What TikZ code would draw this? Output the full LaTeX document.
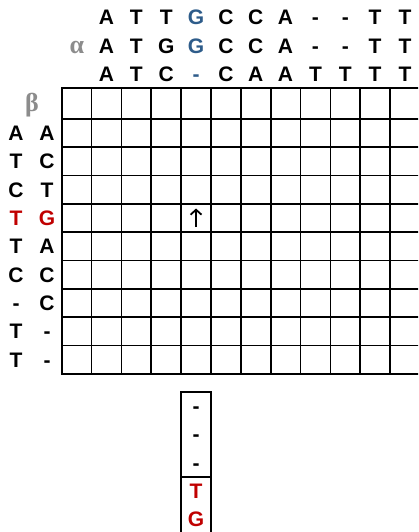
\documentclass[tikz,border=0pt]{standalone}
\usepackage{fontspec}
\setmainfont{Liberation Sans}
\newfontfamily\greekfont{Liberation Serif}
\usetikzlibrary{arrows.meta}
\definecolor{seqblue}{HTML}{2E5C8A}
\definecolor{seqred}{HTML}{C00000}
\definecolor{seqgray}{HTML}{8C8C8C}
\begin{document}
\begin{tikzpicture}[x=1pt,y=-1pt,
  lbl/.style={font=\bfseries\fontsize{21}{21}\selectfont, inner sep=0pt, anchor=base},
  grk/.style={font=\greekfont\bfseries\fontsize{26}{26}\selectfont, inner sep=0pt, anchor=base, text=seqgray},
  gridline/.style={line width=1.7pt, line cap=rect}]
\clip (0,0) rectangle (418,532);
\fill[white] (0,0) rectangle (418,532);
% grid
\def\gx{61.7}\def\gw{29.85}
\foreach \i in {0,...,11} {
  \draw[gridline] ({\gx+\gw*\i},88) -- ({\gx+\gw*\i},373.7);
}
\draw[gridline] (\gx,88) -- (430,88);
\foreach \k in {0,...,9} {
  \draw[gridline] (\gx,{119+28.3*\k}) -- (430,{119+28.3*\k});
}
% top sequences
\foreach \s [count=\c] in {A,T,T,,C,C,A,-,-,T,T} {
  \node[lbl] (ta\c) at ({\gx+\gw*(\c+0.5)},25) {\s};
}
\foreach \s [count=\c] in {A,T,G,,C,C,A,-,-,T,T} {
  \node[lbl] (tb\c) at ({\gx+\gw*(\c+0.5)},53.5) {\s};
}
\foreach \s [count=\c] in {A,T,C,,C,A,A,T,T,T,T} {
  \node[lbl] (tc\c) at ({\gx+\gw*(\c+0.5)},82) {\s};
}
% blue entries (column 4)
\node[lbl,text=seqblue] (ta4b) at ({\gx+\gw*4.5},25) {G};
\node[lbl,text=seqblue] (tb4b) at ({\gx+\gw*4.5},53.5) {G};
\node[lbl,text=seqblue] (tc4b) at ({\gx+\gw*4.5},82) {-};
% greek labels
\node[grk] (alpha) at (77,53.5) {α};
\node[grk] (beta) at (32,111) {β};
% left sequences
\foreach \s [count=\r] in {A,T,C,,T,C,-,T,T} {
  \node[lbl] (la\r) at (16,{140.6+28.3*(\r-1)}) {\s};
}
\foreach \s [count=\r] in {A,C,T,,A,C,C,-,-} {
  \node[lbl] (lb\r) at (47,{140.6+28.3*(\r-1)}) {\s};
}
\node[lbl,text=seqred] (la4r) at (16,{140.6+28.3*3}) {T};
\node[lbl,text=seqred] (lb4r) at (47,{140.6+28.3*3}) {G};
% arrow in cell
\coordinate (arrowbot) at ({\gx+\gw*4.5},227);
\coordinate (arrowtop) at ({\gx+\gw*4.5},208.5);
\draw[line width=1.8pt, -{Straight Barb[length=5pt,width=11pt,line width=1.8pt]}] (arrowbot) -- (arrowtop);
% bottom box
\draw[gridline] ({\gx+\gw*4},545) -- ({\gx+\gw*4},392) -- ({\gx+\gw*5},392) -- ({\gx+\gw*5},545);
\draw[gridline] ({\gx+\gw*4},477) -- ({\gx+\gw*5},477);
\node[lbl] (b1) at ({\gx+\gw*4.5},413.6) {-};
\node[lbl] (b2) at ({\gx+\gw*4.5},441.9) {-};
\node[lbl] (b3) at ({\gx+\gw*4.5},470.2) {-};
\node[lbl,text=seqred] (b4) at ({\gx+\gw*4.5},498.6) {T};
\node[lbl,text=seqred] (b5) at ({\gx+\gw*4.5},526.9) {G};
\end{tikzpicture}
\end{document}
